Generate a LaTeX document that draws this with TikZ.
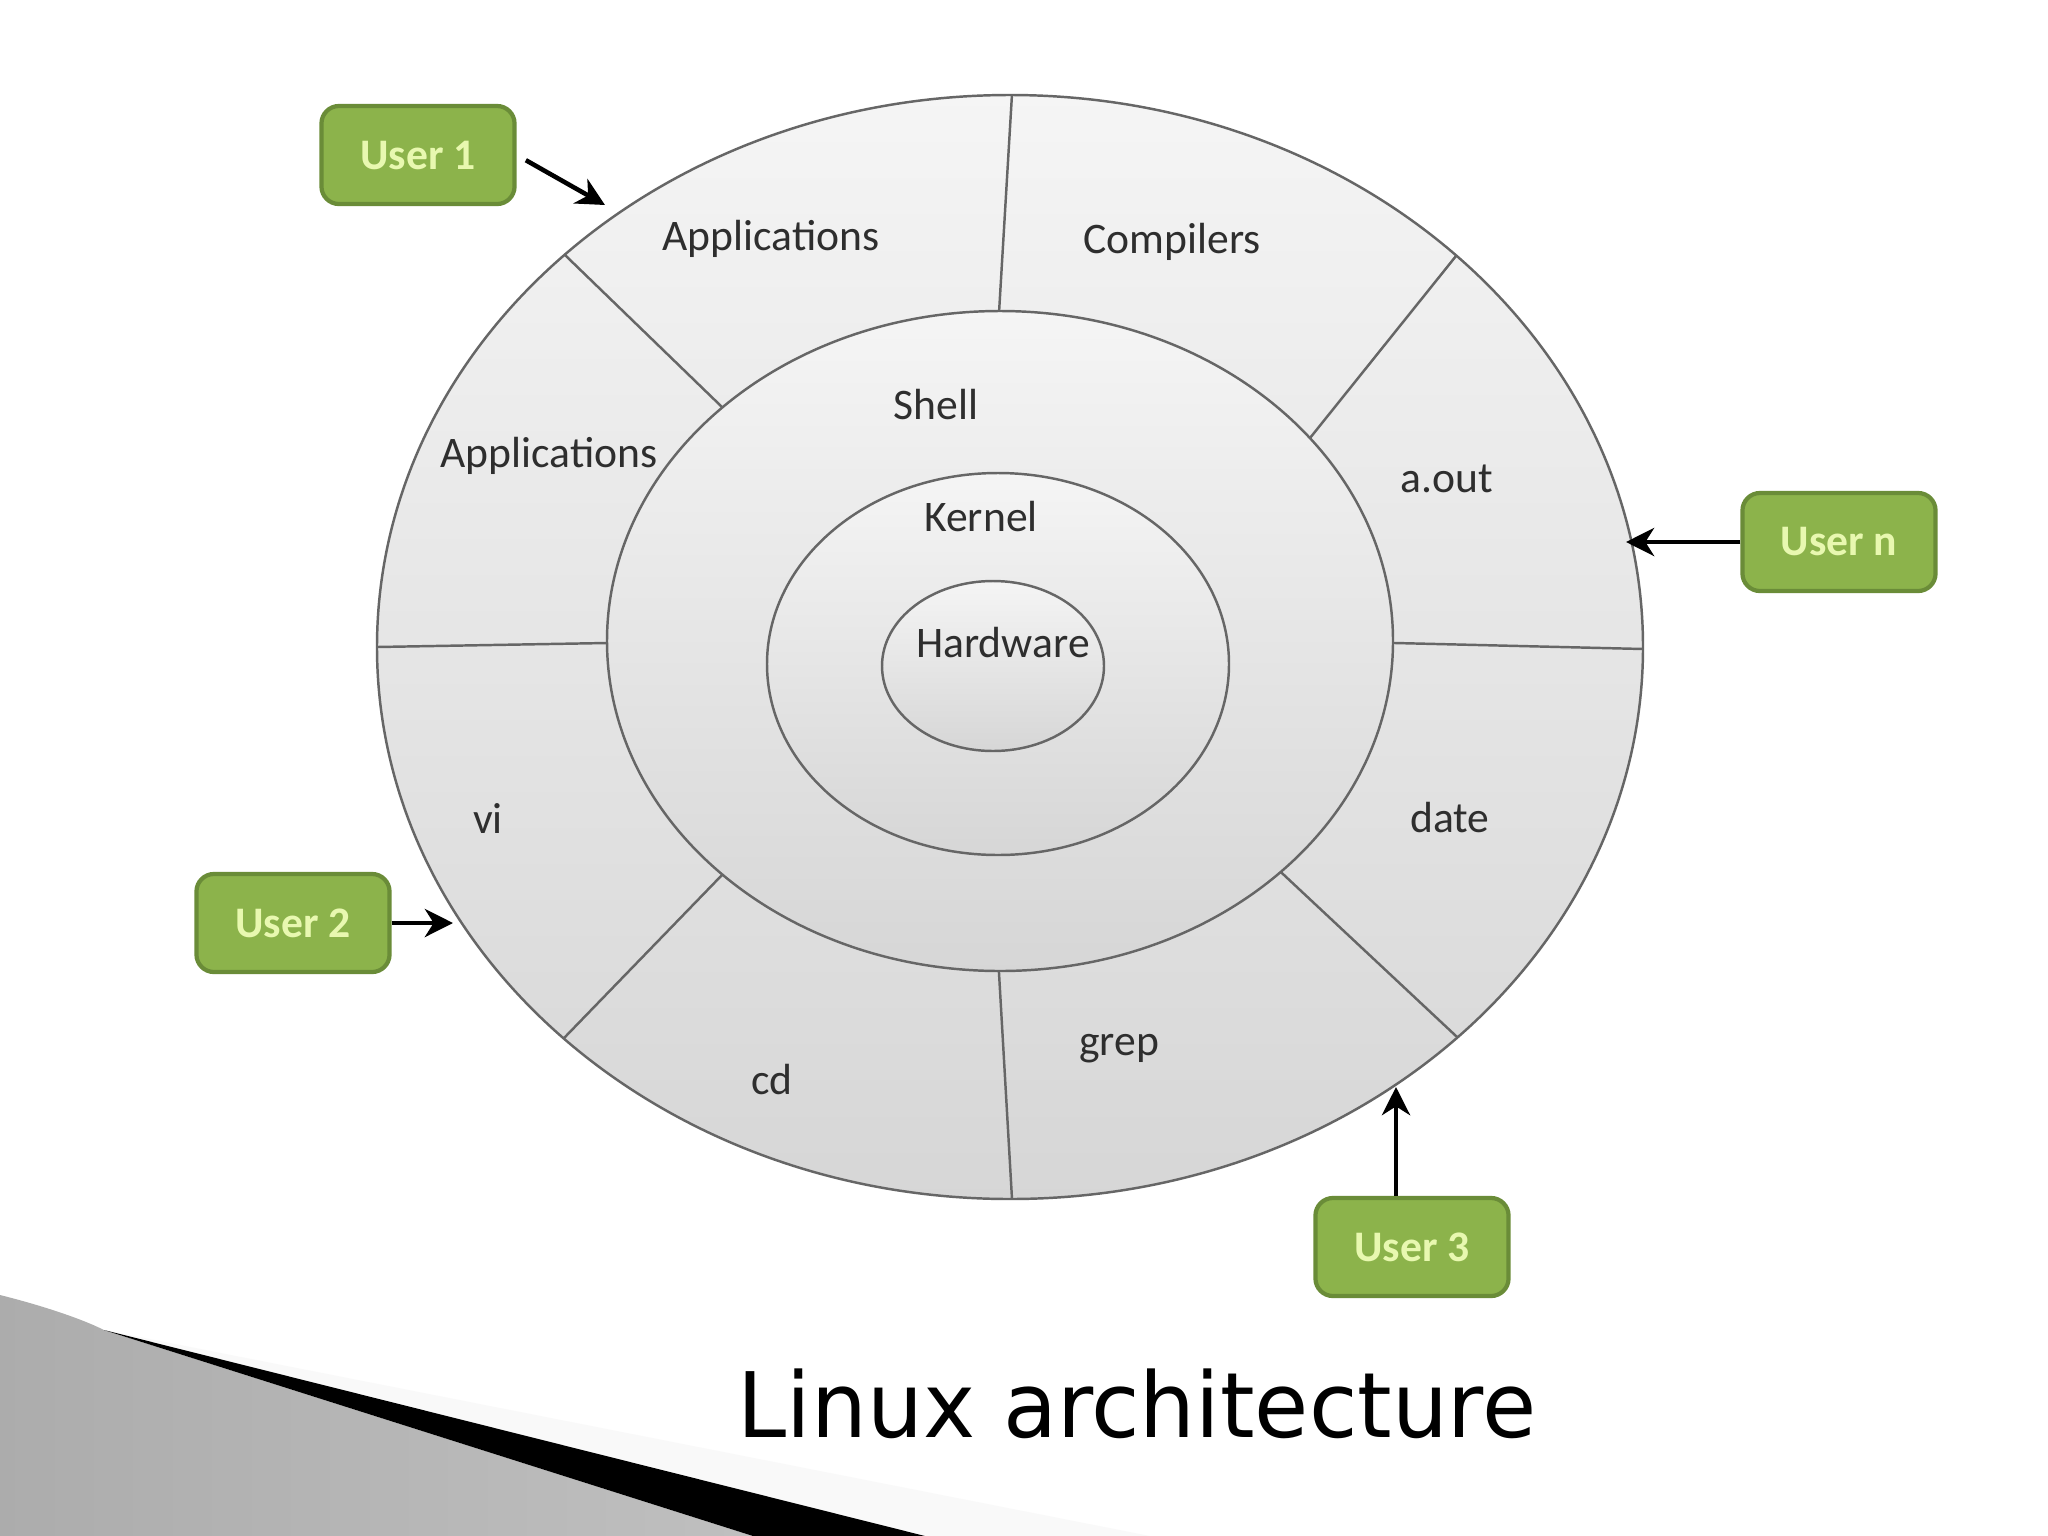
\documentclass[tikz,border=0pt]{standalone}
\usepackage{fontspec}
\setmainfont{Carlito}
\newfontfamily\titlefont[FakeStretch=0.975]{DejaVu Sans}
\usetikzlibrary{calc,arrows.meta}
\definecolor{usergreen}{HTML}{8CB34B}
\definecolor{userborder}{HTML}{6A8C38}
\definecolor{usertext}{HTML}{E8F8B0}
\definecolor{ringline}{HTML}{666666}
\definecolor{ringtextcol}{HTML}{2E2E2E}
\tikzset{
  user/.style={draw=userborder, line width=1.2pt, fill=usergreen, rounded corners=5pt,
    minimum width=1.93cm, minimum height=0.98cm, text=usertext,
    font=\bfseries\fontsize{12.4}{14}\selectfont},
  ring/.style={draw=ringline, line width=0.7pt, top color=gray!8, bottom color=gray!32},
  ringtext/.style={text=ringtextcol, font=\fontsize{12.4}{15}\selectfont},
  userarrow/.style={-{Stealth[length=8pt,width=8pt,inset=2.5pt]}, line width=1.3pt}
}

\begin{document}
\begin{tikzpicture}[x=0.01cm,y=-0.01cm]
\useasboundingbox (0,0) rectangle (2048,1536);
\fill[white] (0,0) rectangle (2048,1536);

% corner swoosh
\fill[gray!5] (104,1330) -- (1150,1536) -- (925,1536) -- cycle;
\shade[left color=gray!65, middle color=gray!25, right color=gray!50]
  (0,1295) .. controls (40,1305) and (80,1318) .. (104,1330) -- (753,1536) -- (0,1536) -- cycle;
\fill[black] (104,1330) -- (925,1536) -- (753,1536) -- cycle;

% outer ring and its sections
\draw[ring] (1010,647) ellipse [x radius=633, y radius=552];
\begin{scope}
  \clip (1010,647) ellipse [x radius=633, y radius=552];
  \foreach \ax/\ay/\bx/\by in {999/313/1012/94, 722/407/566/256, 607/643/377/647,
      722/875/566/1036, 999/973/1012/1199, 1284/875/1456/1036,
      1395/643/1643/649, 1310/438/1456/256}
    \draw[ringline, line width=0.7pt] ($(\ax,\ay)!-0.2!(\bx,\by)$) -- ($(\ax,\ay)!1.2!(\bx,\by)$);
\end{scope}

% shell, kernel, hardware
\draw[ring] (1000,641) ellipse [x radius=393, y radius=330];
\draw[ring] (998,664) ellipse [x radius=231, y radius=191];
\draw[ring] (993,666) ellipse [x radius=111, y radius=85];

\foreach \Name/\X/\Y/\Text in {apptop/771/239/Applications, comp/1172/242/Compilers,
    appleft/549/456/Applications, aout/1447/479/a.out, vi/488/818/vi,
    date/1450/818/date, cd/772/1079/cd, grep/1119/1049/grep,
    shell/936/405/Shell, kernel/981/517/Kernel, hw/1003/643/Hardware}
  \node[ringtext] (\Name) at (\X,\Y) {\Text};

% users
\node[user] (u1) at (418,155) {User 1};
\node[user] (un) at (1839,542) {User n};
\node[user] (u2) at (293,923) {User 2};
\node[user] (u3) at (1412,1247) {User 3};
\coordinate (t1) at (605,205);
\coordinate (tn) at (1626,542);
\coordinate (t2) at (453,923);
\coordinate (t3) at (1396,1087);
\draw[userarrow, shorten <=3pt] (u1.east) -- (t1);
\draw[userarrow] (un.west) -- (tn);
\draw[userarrow] (u2.east) -- (t2);
\draw[userarrow] (t3 |- u3.north) -- (t3);

\node[anchor=base, font=\titlefont\fontsize{25.7}{30}\selectfont] (title) at (1137,1437) {Linux architecture};
\end{tikzpicture}
\end{document}
